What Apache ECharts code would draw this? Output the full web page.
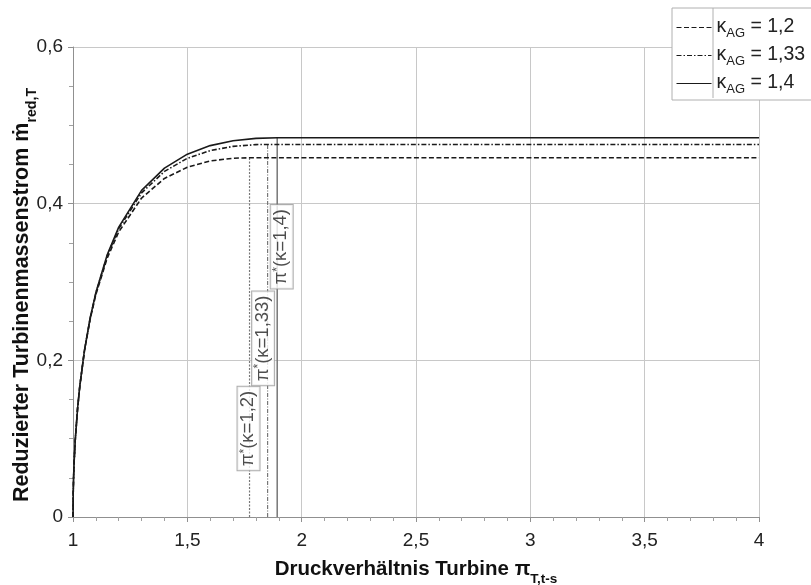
<!DOCTYPE html>
<html>
<head>
<meta charset="utf-8">
<script src="https://cdn.jsdelivr.net/npm/echarts@6/dist/echarts.min.js"></script>
<style>
  html, body { margin: 0; padding: 0; background: #fff; }
  #chart { width: 811px; height: 585px; }
</style>
</head>
<body>
<div id="chart"></div>
<script>
// Druckverhaeltnis bis zum kritischen Punkt (gemeinsame x-Werte)
var piRise = [1, 1.001, 1.0025, 1.005, 1.01, 1.02, 1.03, 1.05, 1.075, 1.1, 1.15, 1.2, 1.3, 1.4, 1.5, 1.6, 1.7, 1.8];
// reduzierter Massenstrom je Isentropenexponent
var mRed12  = [0, 0.0316, 0.0499, 0.0703, 0.0989, 0.1383, 0.1675, 0.2117, 0.2524, 0.2840, 0.3308, 0.3640, 0.4072, 0.4322, 0.4466, 0.4545, 0.4580];
var mRed133 = [0, 0.0316, 0.0499, 0.0703, 0.0990, 0.1385, 0.1678, 0.2123, 0.2536, 0.2857, 0.3337, 0.3681, 0.4138, 0.4412, 0.4579, 0.4678, 0.4731, 0.4754];
var mRed14  = [0, 0.0316, 0.0499, 0.0703, 0.0990, 0.1385, 0.1680, 0.2126, 0.2541, 0.2865, 0.3350, 0.3700, 0.4169, 0.4454, 0.4632, 0.4741, 0.4803, 0.4834];
var kappaText = ['1,2', '1,33', '1,4'];
// kritisches Druckverhaeltnis und Massenstrom im kritischen Punkt
var piCrit = [1.772, 1.851, 1.893];
var mCrit  = [0.4586, 0.4756, 0.4842];
var piEnd = 4;
// Hoehe der Beschriftungen pi*(kappa)
var labelAt = [0.113, 0.228, 0.345];

var FONT = "'Liberation Sans', Arial, sans-serif";
var curves = [mRed12, mRed133, mRed14];
var curveDash = [[5, 2.5], [5, 2, 1.5, 2], 'solid'];
var vertDash = [[2, 1.5], [4, 1.5, 1, 1.5], 'solid'];
// seitlicher Versatz der Kaestchen (Label ist gedreht -> zweite Komponente)
var labelShift = [-1, -4.5, 4.5];

function comma(v) { return String(v).replace('.', ','); }

var series = [];
curves.forEach(function (vals, i) {
  var pts = vals.map(function (v, j) { return [piRise[j], v]; });
  pts.push([piCrit[i], mCrit[i]]);
  pts.push([piEnd, mCrit[i]]);
  series.push({
    name: 'κAG = ' + kappaText[i],
    type: 'line',
    data: pts,
    symbol: 'none',
    z: 5,
    lineStyle: { color: '#1a1a1a', width: 1.6, type: curveDash[i] }
  });
});
curves.forEach(function (vals, i) {
  series.push({
    type: 'line',
    data: [[piCrit[i], 0], [piCrit[i], mCrit[i]]],
    symbol: 'none',
    silent: true,
    z: 3,
    lineStyle: { color: '#777', width: i === 2 ? 1.5 : 1.2, type: vertDash[i] }
  });
  series.push({
    type: 'scatter',
    data: [[piCrit[i], labelAt[i]]],
    symbolSize: 0,
    silent: true,
    z: 6,
    label: {
      show: true,
      position: 'inside',
      rotate: 90,
      offset: [0, labelShift[i]],
      formatter: '{p|π}{s|*}{t|(κ=' + kappaText[i] + ')}',
      backgroundColor: '#fff',
      borderColor: '#999',
      borderWidth: 1,
      padding: [1, 4, 0, 4],
      rich: {
        p: { fontFamily: FONT, fontSize: 18.5, lineHeight: 21, color: '#222', verticalAlign: 'top' },
        s: { fontFamily: FONT, fontSize: 12, lineHeight: 12, color: '#222', verticalAlign: 'top' },
        t: { fontFamily: FONT, fontSize: 18.5, lineHeight: 21, color: '#222', verticalAlign: 'top' }
      }
    }
  });
});

function titleRich(size) {
  return {
    b: { fontFamily: FONT, fontWeight: 'bold', fontSize: size, lineHeight: size + 3, color: '#111', verticalAlign: 'top' },
    s: { fontFamily: FONT, fontWeight: 'bold', fontSize: size * 0.66, lineHeight: 13, color: '#111', verticalAlign: 'top', padding: [size * 0.64, 0, 0, 0] }
  };
}

var chart = echarts.init(document.getElementById('chart'));
chart.setOption({
  animation: false,
  backgroundColor: '#fff',
  grid: { left: 73, right: 52, top: 47, bottom: 68, outerBoundsMode: 'none' },
  xAxis: {
    type: 'value',
    min: 1, max: 4, interval: 0.5,
    axisLine: { lineStyle: { color: '#909090' } },
    axisTick: { show: true, length: 5, lineStyle: { color: '#909090' } },
    minorTick: { show: true, splitNumber: 5, length: 4, lineStyle: { color: '#a0a0a0' } },
    splitLine: { show: true, lineStyle: { color: '#c8c8c8', width: 1 } },
    axisLabel: { fontFamily: FONT, fontSize: 19, color: '#222', margin: 14, formatter: comma },
    name: '{b|Druckverhältnis Turbine π}{s|T,t-s}',
    nameLocation: 'middle',
    nameGap: 42,
    nameMoveOverlap: false,
    nameTextStyle: { rich: titleRich(20.5) }
  },
  yAxis: {
    type: 'value',
    min: 0, max: 0.6, interval: 0.2,
    axisLine: { show: true, lineStyle: { color: '#909090' } },
    axisTick: { show: true, length: 5, lineStyle: { color: '#909090' } },
    minorTick: { show: true, splitNumber: 4, length: 4, lineStyle: { color: '#a0a0a0' } },
    splitLine: { show: true, lineStyle: { color: '#c8c8c8', width: 1 } },
    axisLabel: { fontFamily: FONT, fontSize: 19, color: '#222', margin: 10, formatter: comma },
    name: '{b|Reduzierter Turbinenmassenstrom ṁ}{s|red,T}',
    nameLocation: 'middle',
    nameRotate: 90,
    nameGap: 37,
    nameMoveOverlap: false,
    nameTextStyle: { padding: [0, 26, 0, 0], rich: titleRich(21.5) }
  },
  legend: {
    orient: 'vertical',
    left: 672,
    top: 8,
    padding: [9, 30, 4, 4],
    itemWidth: 35,
    itemHeight: 14,
    itemGap: 5,
    selectedMode: false,
    backgroundColor: '#fff',
    borderColor: '#b0b0b0',
    borderWidth: 1,
    data: series.slice(0, 3).map(function (s) { return s.name; }),
    itemStyle: { opacity: 0 },
    lineStyle: { width: 1, color: '#1a1a1a' },
    formatter: function (n) {
      return '{k|κ}{s|AG}{k|' + n.slice(3) + '}';
    },
    textStyle: {
      rich: {
        k: { fontFamily: FONT, fontSize: 19.5, lineHeight: 21, color: '#222', verticalAlign: 'top' },
        s: { fontFamily: FONT, fontSize: 13, lineHeight: 13, color: '#222', verticalAlign: 'top', padding: [10, 0, 0, 0] }
      }
    }
  },
  graphic: [{
    type: 'line',
    z: 100,
    shape: { x1: 713, y1: 8, x2: 713, y2: 98 },
    style: { stroke: '#b0b0b0', lineWidth: 1 }
  }],
  series: series
});
</script>
</body>
</html>
